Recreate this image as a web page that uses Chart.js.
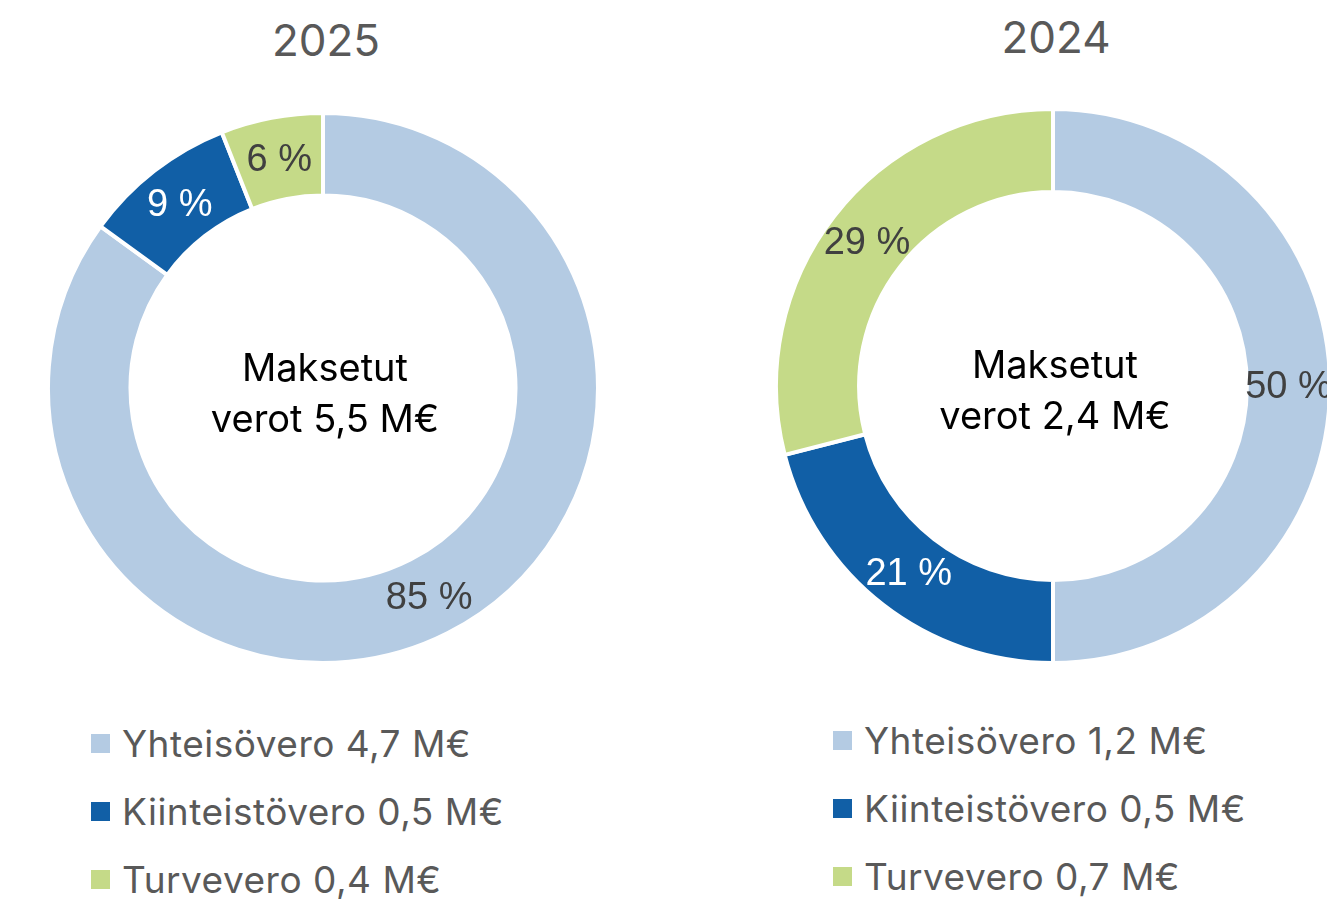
<!DOCTYPE html>
<html>
<head>
<meta charset="utf-8">
<script src="https://cdn.jsdelivr.net/npm/chart.js@4.4.1/dist/chart.umd.min.js"></script>
<style>
	html, body {
		margin: 0;
		padding: 0;
		width: 1327px;
		height: 899px;
		overflow: hidden;
		background: #fff;
	}
	.title {
		position: absolute;
		width: 300px;
		text-align: center;
		font-family: Inter, "Open Sans", sans-serif;
		font-size: 44px;
		color: #595959;
		line-height: 1;
	}
	.wrap {
		position: absolute;
	}
	.center {
		position: absolute;
		width: 360px;
		text-align: center;
		font-family: Inter, "Open Sans", sans-serif;
		font-size: 38px;
		line-height: 51px;
		color: #000;
	}
	.legend {
		position: absolute;
		font-family: Inter, "Open Sans", sans-serif;
		font-size: 37px;
		letter-spacing: 0.5px;
		color: #595959;
	}
	.legend .item {
		height: 68px;
		display: flex;
		align-items: center;
		white-space: nowrap;
	}
	.legend .box {
		width: 19px;
		height: 19px;
		margin-right: 12px;
	}
</style>
</head>
<body>
	<div class="title" id="title-2025" style="left:176px; top:18px;"></div>
	<div class="title" id="title-2024" style="left:906px; top:15px;"></div>

	<div class="wrap" style="left:46px; top:111px; width:554px; height:554px;">
		<canvas id="chart-2025"></canvas>
	</div>
	<div class="wrap" style="left:774px; top:107px; width:558px; height:558px;">
		<canvas id="chart-2024"></canvas>
	</div>

	<div class="center" id="center-2025" style="left:145px; top:342px;"></div>
	<div class="center" id="center-2024" style="left:875px; top:339px;"></div>

	<div class="legend" id="legend-2025" style="left:91px; top:709px;"></div>
	<div class="legend" id="legend-2024" style="left:833px; top:706px;"></div>

<script>
const categories = ["Yhteisövero", "Kiinteistövero", "Turvevero"];
const colors = ["#B4CBE3", "#115FA6", "#C5DA88"];
const labelColors = ["#404040", "#FFFFFF", "#404040"];

const years = ["2025", "2024"];
const shares2025 = [85, 9, 6];
const shares2024 = [50, 21, 29];
const amounts2025 = ["4,7", "0,5", "0,4"];
const amounts2024 = ["1,2", "0,5", "0,7"];
const totals = ["5,5", "2,4"];

// percentage text drawn in the middle of every slice
const sliceLabels = {
	id: "sliceLabels",
	afterDatasetsDraw(chart) {
		const ctx = chart.ctx;
		const meta = chart.getDatasetMeta(0);
		const values = chart.data.datasets[0].data;
		ctx.save();
		ctx.font = '38px "Liberation Sans", Arial, sans-serif';
		ctx.textAlign = "center";
		ctx.textBaseline = "middle";
		meta.data.forEach((arc, i) => {
			const pos = arc.tooltipPosition();
			ctx.fillStyle = labelColors[i];
			ctx.fillText(values[i] + " %", pos.x, pos.y + 2);
		});
		ctx.restore();
	},
};

function buildLegend(id, amounts) {
	const el = document.getElementById(id);
	categories.forEach((name, i) => {
		const item = document.createElement("div");
		item.className = "item";
		const box = document.createElement("span");
		box.className = "box";
		box.style.background = colors[i];
		const text = document.createElement("span");
		text.innerText = `${name} ${amounts[i]} M€`;
		item.appendChild(box);
		item.appendChild(text);
		el.appendChild(item);
	});
}

function makeDoughnut(canvasId, shares) {
	const ctx = document.getElementById(canvasId).getContext("2d");
	new Chart(ctx, {
		type: "doughnut",
		data: {
			labels: categories,
			datasets: [
				{
					data: shares,
					backgroundColor: colors,
					borderColor: "#FFFFFF",
					borderWidth: 4,
					hoverOffset: 0,
				},
			],
		},
		options: {
			responsive: true,
			maintainAspectRatio: false,
			animation: false,
			events: [],
			cutout: "70%",
			plugins: {
				legend: { display: false },
				tooltip: { enabled: false },
				title: { display: false },
			},
			layout: { padding: 0 },
		},
		plugins: [sliceLabels],
	});
}

years.forEach((year, k) => {
	document.getElementById("title-" + year).innerText = year;
	document.getElementById("center-" + year).innerHTML =
		"Maksetut<br>verot " + totals[k] + " M€";
});

makeDoughnut("chart-2025", shares2025);
makeDoughnut("chart-2024", shares2024);
buildLegend("legend-2025", amounts2025);
buildLegend("legend-2024", amounts2024);
</script>
</body>
</html>
